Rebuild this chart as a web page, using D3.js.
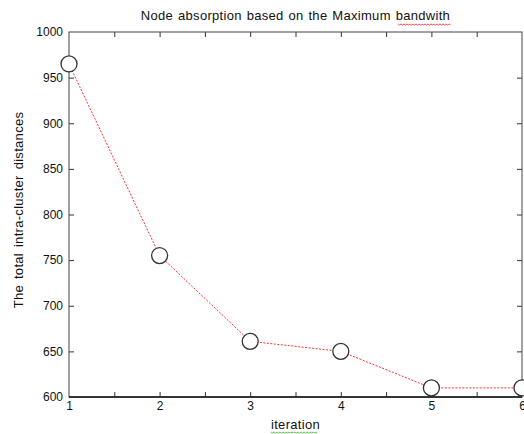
<!DOCTYPE html>
<html>
<head>
<meta charset="utf-8">
<script src="https://cdn.jsdelivr.net/npm/d3@7"></script>
<style>
  body { margin: 0; background: #fff; }
  svg text { font-family: "Liberation Sans", Arial, sans-serif; fill: #111; }
</style>
</head>
<body>
<script>
var iterations = [1, 2, 3, 4, 5, 6];
var distances = [965, 755, 661, 650, 610, 610];
var xTicks = [1, 1.5, 2, 2.5, 3, 3.5, 4, 4.5, 5, 5.5, 6];
var yTicks = [600, 650, 700, 750, 800, 850, 900, 950, 1000];

var w = 524;
var h = 434;
var pLeft = 69, pRight = 522, pTop = 32, pBottom = 397;

var svg = d3.select('body')
  .append('svg')
  .attr('width', w)
  .attr('height', h);

var x = d3.scaleLinear().domain([1, 6]).range([pLeft, pRight]);
var y = d3.scaleLinear().domain([600, 1000]).range([pBottom, pTop]);

function fmtX(d) { return d % 1 === 0 ? d : ''; }

// axes, ticks point inwards
var gb = svg.append('g').attr('transform', 'translate(0,' + pBottom + ')')
  .call(d3.axisBottom(x).tickValues(xTicks).tickFormat(fmtX).tickSizeInner(-5).tickSizeOuter(0).tickPadding(4));
var gt = svg.append('g').attr('transform', 'translate(0,' + pTop + ')')
  .call(d3.axisTop(x).tickValues(xTicks).tickFormat('').tickSizeInner(-5).tickSizeOuter(0));
var gl = svg.append('g').attr('transform', 'translate(' + pLeft + ',0)')
  .call(d3.axisLeft(y).tickValues(yTicks).tickFormat(d3.format('d')).tickSizeInner(-5).tickSizeOuter(0).tickPadding(6));
var gr = svg.append('g').attr('transform', 'translate(' + pRight + ',0)')
  .call(d3.axisRight(y).tickValues(yTicks).tickFormat('').tickSizeInner(-5).tickSizeOuter(0));

[gb, gt, gl, gr].forEach(function(g) {
  g.select('.domain').remove();
  g.selectAll('line').attr('stroke', '#333');
  g.selectAll('text').attr('font-size', 12).attr('font-family', '"Liberation Sans", Arial, sans-serif').attr('fill', '#111');
});
// drop end ticks that sit on the frame
[gb, gt].forEach(function(g) {
  g.selectAll('.tick').filter(function(d) { return d === 1 || d === 6; }).select('line').remove();
});
[gl, gr].forEach(function(g) {
  g.selectAll('.tick').filter(function(d) { return d === 600 || d === 1000; }).select('line').remove();
});

svg.append('rect')
  .attr('x', pLeft).attr('y', pTop)
  .attr('width', pRight - pLeft).attr('height', pBottom - pTop)
  .attr('fill', 'none').attr('stroke', '#444').attr('stroke-width', 1);
svg.append('line')
  .attr('x1', pLeft).attr('x2', pRight).attr('y1', pBottom).attr('y2', pBottom)
  .attr('stroke', '#111').attr('stroke-width', 1.3);

var line = d3.line()
  .x(function(d, i) { return x(iterations[i]); })
  .y(function(d) { return y(d); });

svg.append('path')
  .datum(distances)
  .attr('d', line)
  .attr('fill', 'none')
  .attr('stroke', '#ff3030')
  .attr('stroke-width', 1)
  .attr('stroke-dasharray', '2,1.5');

svg.selectAll('circle')
  .data(distances)
  .enter()
  .append('circle')
  .attr('cx', function(d, i) { return x(iterations[i]); })
  .attr('cy', function(d) { return y(d); })
  .attr('r', 8)
  .attr('fill', '#fff')
  .attr('stroke', '#333')
  .attr('stroke-width', 1.3);

// titles
svg.append('text')
  .attr('x', (pLeft + pRight) / 2)
  .attr('y', 20)
  .attr('text-anchor', 'middle')
  .attr('font-size', 13)
  .attr('letter-spacing', 0.3)
  .attr('word-spacing', 1)
  .text('Node absorption based on the Maximum bandwith');

svg.append('text')
  .attr('x', (pLeft + pRight) / 2)
  .attr('y', 429)
  .attr('text-anchor', 'middle')
  .attr('font-size', 13)
  .attr('letter-spacing', 0.3)
  .text('iteration');

svg.append('text')
  .attr('transform', 'translate(23,' + 210 + ') rotate(-90)')
  .attr('text-anchor', 'middle')
  .attr('font-size', 13)
  .attr('letter-spacing', 0.3)
  .attr('word-spacing', 2)
  .text('The total intra-cluster distances');

// spell-check squiggles
function squiggle(x0, x1, yy, color) {
  var pts = [];
  for (var px = x0, k = 0; px <= x1; px += 1.5, k++) pts.push([px, yy + (k % 2 ? 1 : 0)]);
  svg.append('path').attr('d', d3.line()(pts)).attr('fill', 'none')
    .attr('stroke', color).attr('stroke-width', 0.8);
}
squiggle(398, 451, 24, '#e23');
squiggle(271, 318, 432, '#3a3');
</script>
</body>
</html>
